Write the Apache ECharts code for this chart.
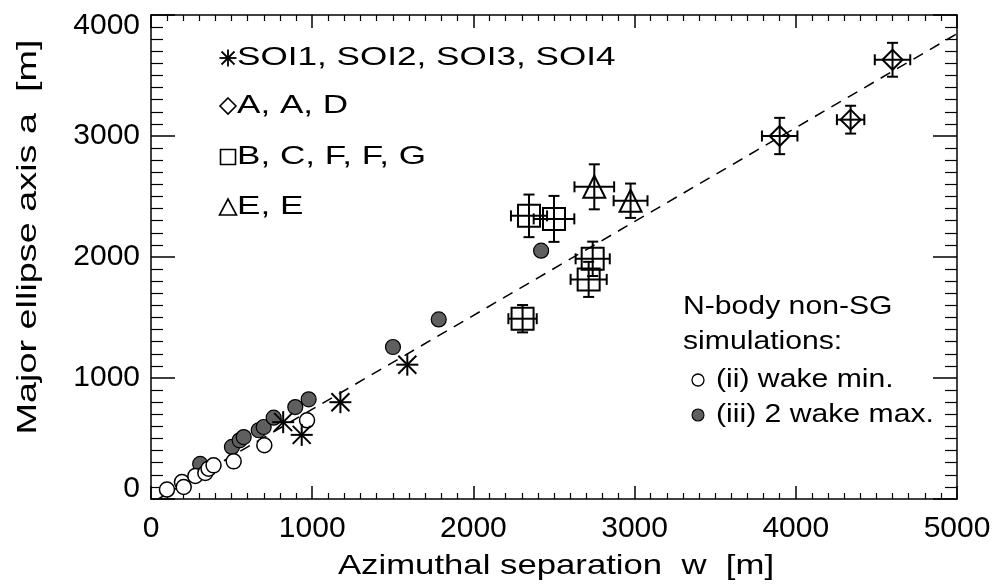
<!DOCTYPE html>
<html>
<head>
<meta charset="utf-8">
<script src="https://cdn.jsdelivr.net/npm/echarts@6/dist/echarts.min.js"></script>
<style>
  html, body { margin: 0; padding: 0; background: #fff; }
  #chart { width: 999px; height: 585px; }
</style>
</head>
<body>
<div id="chart"></div>
<script>
// Axis ticks
const xTicks = [0, 1000, 2000, 3000, 4000, 5000];
const yTicks = [0, 1000, 2000, 3000, 4000];

// SOI1..SOI4 (asterisks)
const soiW = [820, 935, 1175, 1590];
const soiA = [635, 530, 800, 1110];

// A, A, D (diamonds) with errors
const diaW = [3900, 4340, 4600];
const diaA = [3000, 3135, 3630];
const diaWErr = [110, 85, 110];
const diaAErr = [150, 115, 140];

// B, C, F, F, G (squares) with errors
const sqW = [2345, 2500, 2740, 2715, 2305];
const sqA = [2340, 2315, 1985, 1815, 1490];
const sqWErr = [112, 126, 106, 112, 88];
const sqAErr = [176, 190, 142, 145, 113];

// E, E (triangles) with errors
const triW = [2750, 2975];
const triA = [2580, 2465];
const triWErr = [123, 105];
const triAErr = [186, 142];

// N-body non-SG simulations, (ii) wake min.
const minW = [99, 192, 203, 275, 337, 357, 388, 513, 703, 968];
const minA = [78, 140, 99, 190, 215, 251, 278, 311, 444, 650];

// N-body non-SG simulations, (iii) 2 wake max.
const maxW = [305, 502, 550, 575, 668, 699, 761, 895, 978, 1501, 1785, 2420];
const maxA = [290, 430, 485, 512, 568, 595, 672, 760, 824, 1256, 1484, 2052];

// Linear trend (end points)
const fitW = [45, 5000];
const fitA = [0, 3845];

const FONT = '"Liberation Sans", Arial, Helvetica, sans-serif';

const zip = (...cols) => cols[0].map((_, i) => cols.map(c => c[i]));

const chart = echarts.init(document.getElementById('chart'), null, { renderer: 'canvas' });

const black = '#000';

function axisCommon(extra) {
  return Object.assign({
    type: 'value',
    axisLine: { show: true, onZero: false, lineStyle: { color: black, width: 1.5 } },
    splitLine: { show: false },
    minorSplitLine: { show: false }
  }, extra);
}

const strokeStyle = { stroke: black, lineWidth: 2, fill: null };

function errorBars(c, l, r, t, b, cap) {
  return [
    { type: 'line', shape: { x1: l[0], y1: c[1], x2: r[0], y2: c[1] }, style: strokeStyle },
    { type: 'line', shape: { x1: l[0], y1: c[1] - cap, x2: l[0], y2: c[1] + cap }, style: strokeStyle },
    { type: 'line', shape: { x1: r[0], y1: c[1] - cap, x2: r[0], y2: c[1] + cap }, style: strokeStyle },
    { type: 'line', shape: { x1: c[0], y1: t[1], x2: c[0], y2: b[1] }, style: strokeStyle },
    { type: 'line', shape: { x1: c[0] - cap, y1: t[1], x2: c[0] + cap, y2: t[1] }, style: strokeStyle },
    { type: 'line', shape: { x1: c[0] - cap, y1: b[1], x2: c[0] + cap, y2: b[1] }, style: strokeStyle }
  ];
}

function shapeAt(kind, cx, cy, h) {
  if (kind === 'diamond') {
    return { type: 'polygon', shape: { points: [[cx, cy - h], [cx + h, cy], [cx, cy + h], [cx - h, cy]] }, style: strokeStyle };
  }
  if (kind === 'square') {
    return { type: 'rect', shape: { x: cx - h, y: cy - h, width: 2 * h, height: 2 * h }, style: strokeStyle };
  }
  return { type: 'polygon', shape: { points: [[cx, cy - h], [cx + h, cy + h], [cx - h, cy + h]] }, style: strokeStyle };
}

function errorSymbolSeries(name, kind, half, w, a, we, ae) {
  return {
    type: 'custom',
    name: name,
    data: zip(w, a, we, ae),
    encode: { x: 0, y: 1 },
    z: 5,
    renderItem(params, api) {
      const x = api.value(0), y = api.value(1), ex = api.value(2), ey = api.value(3);
      const c = api.coord([x, y]);
      const l = api.coord([x - ex, y]);
      const r = api.coord([x + ex, y]);
      const t = api.coord([x, y + ey]);
      const b = api.coord([x, y - ey]);
      return {
        type: 'group',
        children: errorBars(c, l, r, t, b, 5.5).concat([shapeAt(kind, c[0], c[1], half)])
      };
    }
  };
}

function asteriskPaths(cx, cy, h, d) {
  const s = { stroke: black, lineWidth: 2 };
  return [
    { type: 'line', shape: { x1: cx - h, y1: cy, x2: cx + h, y2: cy }, style: s },
    { type: 'line', shape: { x1: cx, y1: cy - h, x2: cx, y2: cy + h }, style: s },
    { type: 'line', shape: { x1: cx - d, y1: cy - d, x2: cx + d, y2: cy + d }, style: s },
    { type: 'line', shape: { x1: cx - d, y1: cy + d, x2: cx + d, y2: cy - d }, style: s }
  ];
}

const labelFont = { fontFamily: FONT, fontSize: 30, color: black };

function xAxisDef(pos, showLabels) {
  return axisCommon({
    position: pos, min: xTicks[0], max: xTicks[xTicks.length - 1], interval: 1000,
    axisTick: { show: true, inside: true, length: 13, lineStyle: { color: black, width: 1.5 } },
    minorTick: { show: true, splitNumber: 10, length: 6, lineStyle: { color: black, width: 1.2 } },
    axisLabel: showLabels ? Object.assign({ margin: 15, formatter: v => String(v) }, labelFont) : { show: false }
  });
}

function yAxisDef(pos, showLabels) {
  const last = yTicks[yTicks.length - 1];
  return axisCommon({
    position: pos, min: yTicks[0], max: last, interval: 1000,
    axisTick: { show: true, inside: true, length: 24, lineStyle: { color: black, width: 1.5 } },
    minorTick: { show: true, splitNumber: 10, length: 12, lineStyle: { color: black, width: 1.2 } },
    axisLabel: showLabels ? Object.assign({
      margin: 11,
      formatter: v => v === yTicks[0] ? '{lo|' + v + '}' : (v === last ? '{hi|' + v + '}' : String(v)),
      rich: {
        lo: Object.assign({ padding: [0, 0, 21, 0] }, labelFont),
        hi: Object.assign({ padding: [21, 0, 0, 0] }, labelFont)
      }
    }, labelFont) : { show: false }
  });
}

const option = {
  animation: false,
  backgroundColor: '#fff',
  grid: { left: 151, right: 42, top: 15, bottom: 86, containLabel: false },
  xAxis: [xAxisDef('bottom', true), xAxisDef('top', false)],
  yAxis: [yAxisDef('left', true), yAxisDef('right', false)],
  series: [
    {
      type: 'line',
      name: 'fit',
      data: zip(fitW, fitA),
      symbol: 'none',
      lineStyle: { color: black, width: 1.5, type: [11, 8] },
      z: 1
    },
    {
      type: 'scatter',
      name: '(iii) 2 wake max.',
      data: zip(maxW, maxA),
      symbol: 'circle',
      symbolSize: 15,
      itemStyle: { color: '#5f5f5f', borderColor: black, borderWidth: 1.2, opacity: 1 },
      z: 2
    },
    {
      type: 'scatter',
      name: '(ii) wake min.',
      data: zip(minW, minA),
      symbol: 'circle',
      symbolSize: 15,
      itemStyle: { color: '#fff', borderColor: black, borderWidth: 1.5, opacity: 1 },
      z: 3
    },
    {
      type: 'custom',
      name: 'SOI1, SOI2, SOI3, SOI4',
      data: zip(soiW, soiA),
      encode: { x: 0, y: 1 },
      z: 4,
      renderItem(params, api) {
        const c = api.coord([api.value(0), api.value(1)]);
        return { type: 'group', children: asteriskPaths(c[0], c[1], 11, 9) };
      }
    },
    errorSymbolSeries('A, A, D', 'diamond', 10, diaW, diaA, diaWErr, diaAErr),
    errorSymbolSeries('B, C, F, F, G', 'square', 11, sqW, sqA, sqWErr, sqAErr),
    errorSymbolSeries('E, E', 'triangle', 11, triW, triA, triWErr, triAErr)
  ],
  graphic: []
};

// Text blocks: symbol key (upper left), simulation note (lower right), axis titles
function label(text, x, y, size, sx, extra) {
  return Object.assign({
    type: 'text', x: x, y: y, scaleX: sx,
    style: { text: text, verticalAlign: 'middle', align: 'left', fontFamily: FONT, fontSize: size, fill: black }
  }, extra || {});
}
const legendRows = [
  { kind: 'asterisk', text: 'SOI1, SOI2, SOI3, SOI4', y: 58 },
  { kind: 'diamond', text: 'A, A, D', y: 106 },
  { kind: 'square', text: 'B, C, F, F, G', y: 157 },
  { kind: 'triangle', text: 'E, E', y: 207 }
];
const g = [];
legendRows.forEach(row => {
  const cx = 228, cy = row.y;
  const ls = { stroke: black, lineWidth: 1.6, fill: null };
  if (row.kind === 'asterisk') {
    asteriskPaths(cx, cy, 8.5, 6.5).forEach(p => { p.style = { stroke: black, lineWidth: 1.8 }; g.push(p); });
  } else if (row.kind === 'diamond') {
    g.push({ type: 'polygon', shape: { points: [[cx, cy - 8], [cx + 8, cy], [cx, cy + 8], [cx - 8, cy]] }, style: ls });
  } else if (row.kind === 'square') {
    g.push({ type: 'rect', shape: { x: cx - 7.5, y: cy - 7.5, width: 15, height: 15 }, style: ls });
  } else {
    g.push({ type: 'polygon', shape: { points: [[cx, cy - 8], [cx + 8.5, cy + 8], [cx - 8.5, cy + 8]] }, style: ls });
  }
  g.push(label(row.text, 237, cy, 26, 1.35));
});

g.push(label('N-body non-SG', 683, 307, 26, 1.16));
g.push(label('simulations:', 683, 342, 26, 1.16));
g.push({ type: 'circle', shape: { cx: 698, cy: 380, r: 6 }, style: { fill: '#fff', stroke: black, lineWidth: 1.3 } });
g.push(label('(ii) wake min.', 716, 380, 26, 1.16));
g.push({ type: 'circle', shape: { cx: 698, cy: 415, r: 6 }, style: { fill: '#5f5f5f', stroke: black, lineWidth: 1.1 } });
g.push(label('(iii) 2 wake max.', 716, 415, 26, 1.16));

g.push({
  type: 'text', x: 556, y: 566, scaleX: 1.24,
  style: { text: 'Azimuthal separation  w  [m]', align: 'center', verticalAlign: 'middle', fontFamily: FONT, fontSize: 28, fill: black }
});
g.push({
  type: 'text', x: 28, y: 237, rotation: Math.PI / 2, scaleX: 1.35,
  style: { text: 'Major ellipse axis a  [m]', align: 'center', verticalAlign: 'middle', fontFamily: FONT, fontSize: 28, fill: black }
});

option.graphic = g;
chart.setOption(option);
</script>
</body>
</html>
